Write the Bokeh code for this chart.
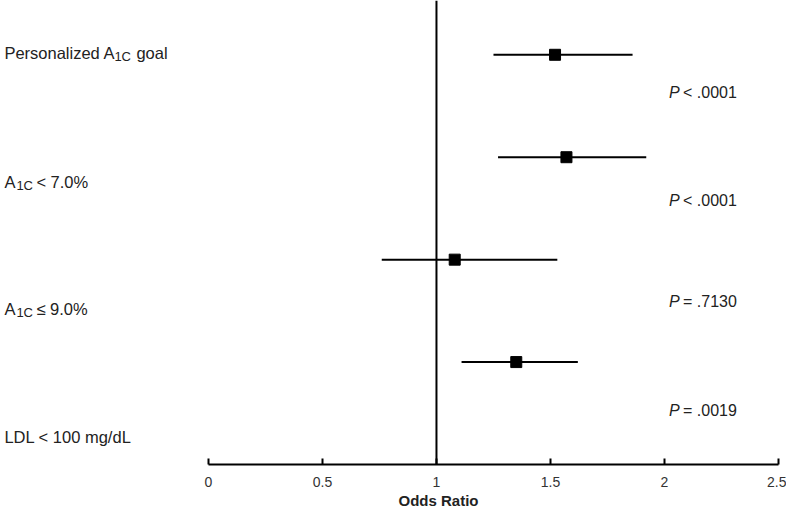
from bokeh.plotting import figure
from bokeh.models import Range1d, Span, Label, FixedTicker, Title
from bokeh.embed import file_html
from bokeh.resources import INLINE

# ---- data ----
outcomes = ["Personalized A1C goal", "A1C < 7.0%", "A1C \u2264 9.0%", "LDL < 100 mg/dL"]
odds_ratio = [1.52, 1.57, 1.08, 1.35]
ci_low = [1.25, 1.27, 0.76, 1.11]
ci_high = [1.86, 1.92, 1.53, 1.62]
p_sign = ["<", "<", "=", "="]
p_value = [".0001", ".0001", ".7130", ".0019"]
x_ticks = [0, 0.5, 1, 1.5, 2, 2.5]
x_tick_labels = ["0", "0.5", "1", "1.5", "2", "2.5"]
x_title = "Odds Ratio"
null_value = 1

# ---- layout ----
row_y = [4, 3, 2, 1]
label_y = [4.02, 2.76, 1.52, 0.27]
p_y = [3.63, 2.58, 1.59, 0.53]
label_x = -0.895
p_x = 2.02
# pieces of each outcome label: (text, font size, x offset px, y offset px)
label_parts = [
    [("Personalized A", "16.5px", 0, 0), ("1C", "13px", 110, -4), ("goal", "16.5px", 132, 0)],
    [("A", "16.5px", 0, 0), ("1C", "13px", 12, -4), ("< 7.0%", "16.5px", 32, 0)],
    [("A", "16.5px", 0, 0), ("1C", "13px", 12, -4), ("\u2264 9.0%", "16.5px", 32, 0)],
    [("LDL < 100 mg/dL", "16.5px", 0, 0)],
]

FONT = "Liberation Sans"
TXT = "#222222"

p = figure(width=786, height=508, output_backend="svg", toolbar_location=None,
           x_range=Range1d(-0.912, 2.5), y_range=Range1d(0, 4.53),
           min_border_left=0, min_border_right=8, min_border_top=0, min_border_bottom=40)
p.outline_line_color = None
p.xgrid.visible = False
p.ygrid.visible = False
p.yaxis.visible = False

ax = p.xaxis[0]
ax.bounds = (x_ticks[0], x_ticks[-1])
ax.ticker = FixedTicker(ticks=x_ticks)
ax.major_label_overrides = {t: l for t, l in zip(x_ticks, x_tick_labels)}
ax.axis_line_width = 2
ax.axis_line_color = "black"
ax.major_tick_in = 6
ax.major_tick_out = 0
ax.major_tick_line_width = 2
ax.minor_tick_line_color = None
ax.major_label_standoff = 12
ax.major_label_text_font = FONT
ax.major_label_text_font_size = "14px"
ax.major_label_text_color = "#333333"

p.add_layout(Title(text=x_title, align="left", offset=398, standoff=0,
                   text_font=FONT, text_font_size="15px", text_font_style="bold",
                   text_color=TXT), "below")

p.add_layout(Span(location=null_value, dimension="height", line_color="black", line_width=2))

p.segment(x0=ci_low, x1=ci_high, y0=row_y, y1=row_y, line_color="black", line_width=2)
p.scatter(x=odds_ratio, y=row_y, marker="square", size=11, fill_color="black", line_color="black")

for parts, y in zip(label_parts, label_y):
    for text, size, dx, dy in parts:
        p.add_layout(Label(x=label_x, y=y, x_offset=dx, y_offset=dy, text=text,
                           text_font=FONT, text_font_size=size, text_color=TXT,
                           text_baseline="middle", text_align="left"))

for sign, val, y in zip(p_sign, p_value, p_y):
    p.add_layout(Label(x=p_x, y=y, text="P", text_font=FONT, text_font_size="16px",
                       text_font_style="italic", text_color=TXT, text_baseline="middle"))
    p.add_layout(Label(x=p_x, y=y, x_offset=14, text=sign + " " + val, text_font=FONT,
                       text_font_size="16px", text_color=TXT, text_baseline="middle"))

open("out.html", "w").write(file_html(p, INLINE))
